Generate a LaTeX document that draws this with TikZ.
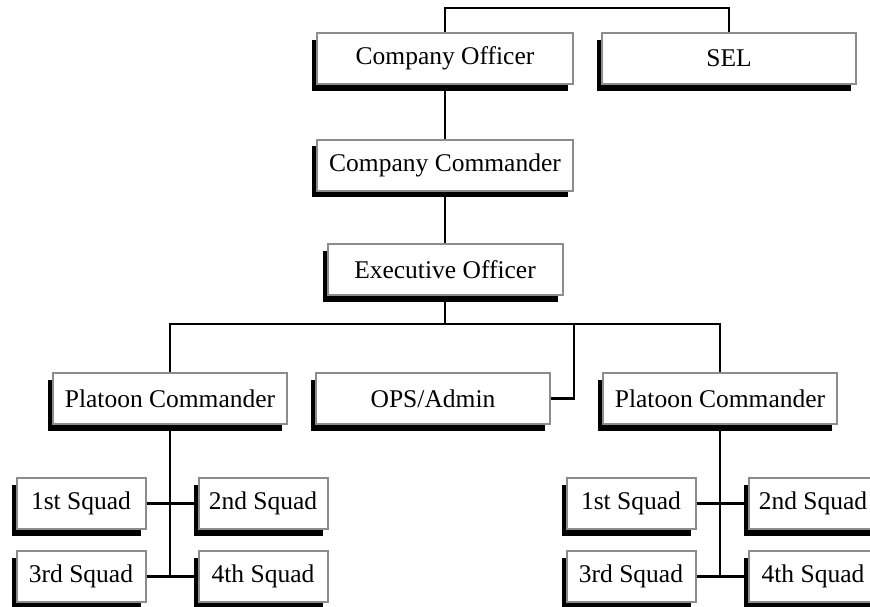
\documentclass[tikz,border=0pt]{standalone}
\usepackage{fontspec}
\setmainfont{Liberation Serif}
\usetikzlibrary{shadows}

\begin{document}
\begin{tikzpicture}[x=1pt, y=-1pt,
    unit/.style={draw=black!45, line width=2pt, fill=white, inner sep=0pt, minimum height=51pt,
      font=\fontsize{25.5}{30}\selectfont,
      general shadow={fill=black, shadow xshift=-5pt, shadow yshift=-6.5pt}},
    sq/.style={unit, minimum width=129pt},
    link/.style={line width=2.3pt, black}]
    \useasboundingbox (0,0) rectangle (870,606);
    % command
    \node[unit, minimum width=256pt] (co) at (445,58.5) {Company Officer};
    \node[unit, minimum width=254pt] (sel) at (729,58.5) {SEL};
    \node[unit, minimum width=256pt] (cc) at (445,165) {Company Commander};
    \node[unit, minimum width=235pt] (xo) at (445,269.5) {Executive Officer};
    % platoons
    \node[unit, minimum width=234pt] (pla) at (170,398.5) {Platoon Commander};
    \node[unit, minimum width=234pt] (ops) at (433,398.5) {OPS/Admin};
    \node[unit, minimum width=234pt] (plb) at (720,398.5) {Platoon Commander};
    \coordinate (bus) at (445,324);
    \coordinate (opsj) at (574,324);
    % links above the platoons
    \draw[link] (co.north) -- ++(0,-24) -| (sel.north);
    \draw[link] (co) -- (cc);
    \draw[link] (cc) -- (xo);
    \draw[link] (xo) -- (bus);
    \draw[link] (pla.north) |- (bus) -| (plb.north);
    \draw[link] (ops.east) -| (opsj);
    % squads
    \foreach \p/\dx in {a/0, b/550} {
      \node[sq] (s1\p) at (81+\dx,503.5) {1st Squad};
      \node[sq] (s2\p) at (263+\dx,503.5) {2nd Squad};
      \node[sq] (s3\p) at (81+\dx,576.5) {3rd Squad};
      \node[sq] (s4\p) at (263+\dx,576.5) {4th Squad};
      \draw[link] (pl\p.south) -- (pl\p.south |- s3\p.east);
      \draw[link] (s1\p) -- (s2\p);
      \draw[link] (s3\p) -- (s4\p);
    }
\end{tikzpicture}
\end{document}
